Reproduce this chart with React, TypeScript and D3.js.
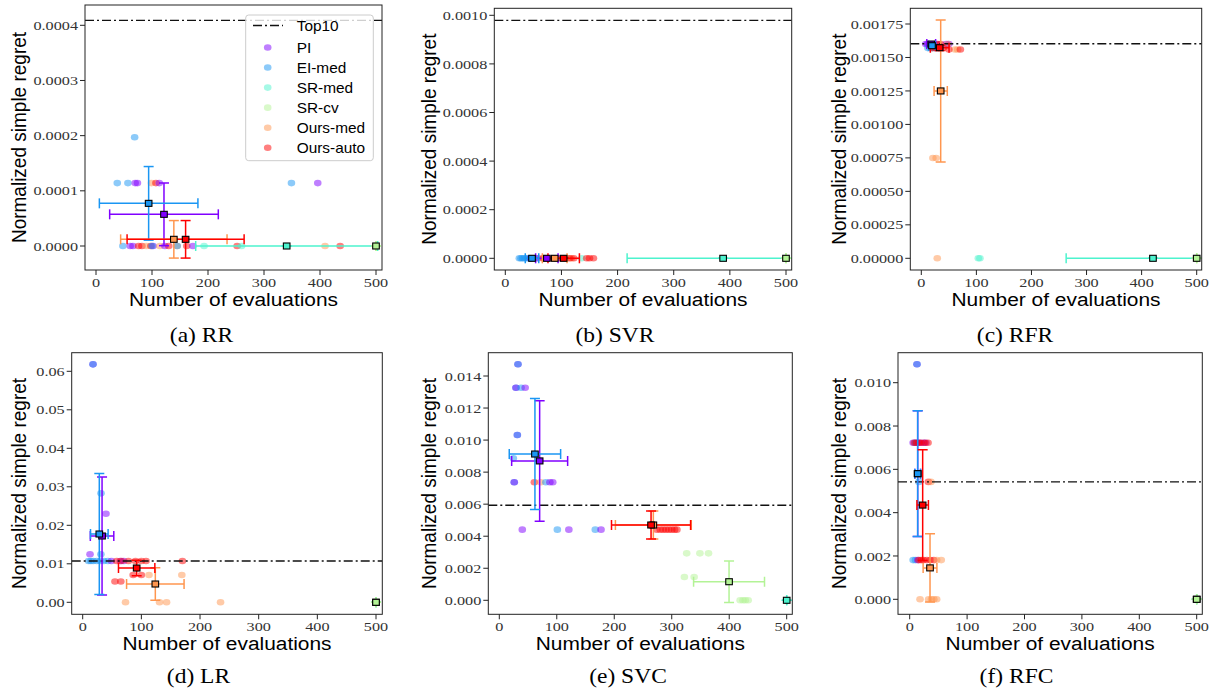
import React from "react";
import * as d3 from "d3";

// Methods in plotting order and their colours (matplotlib "rainbow" sampled at 6 steps)
const methods = ["PI", "EI-med", "SR-med", "SR-cv", "Ours-med", "Ours-auto"];
const methodColors = ["#8000ff", "#1a96f3", "#4df3ce", "#b3f396", "#ff964f", "#ff0000"];

const panelTitles = ["(a) RR", "(b) SVR", "(c) RFR", "(d) LR", "(e) SVC", "(f) RFC"];
const xTickValues = [0, 100, 200, 300, 400, 500];
const yTickValues = [
  [0, 0.0001, 0.0002, 0.0003, 0.0004],
  [0, 0.0002, 0.0004, 0.0006, 0.0008, 0.001],
  [0, 0.00025, 0.0005, 0.00075, 0.001, 0.00125, 0.0015, 0.00175],
  [0, 0.01, 0.02, 0.03, 0.04, 0.05, 0.06],
  [0, 0.002, 0.004, 0.006, 0.008, 0.01, 0.012, 0.014],
  [0, 0.002, 0.004, 0.006, 0.008, 0.01],
];
const yTickFormats = [".4f", ".4f", ".5f", ".2f", ".3f", ".3f"];
const top10Regret = [0.000409, 0.000979, 0.001603, 0.01073, 0.00593, 0.00542];

// Individual runs: [method index, number of evaluations, normalized simple regret]
const rrRuns = [
  [1, 69, 0.000197],
  [1, 38, 0.000114], [1, 57, 0.000114], [0, 70, 0.000114], [0, 74, 0.000114],
  [4, 99, 0.000114], [5, 107, 0.000114], [0, 113, 0.000114], [1, 349, 0.000114], [0, 396, 0.000114],
  [1, 48, 0], [0, 61, 0], [0, 66, 0], [5, 76, 0], [5, 82, 0], [4, 90, 0], [5, 98, 0], [0, 102, 0],
  [1, 100, 0], [4, 114, 0], [0, 123, 0], [5, 130, 0], [4, 145, 0], [1, 145, 0], [5, 162, 0],
  [0, 173, 0], [2, 193, 0], [5, 252, 0], [2, 260, 0], [4, 409, 0], [5, 436, 0], [3, 500, 0],
];
const svrRuns = [
  [1, 25, 0], [1, 28, 0], [1, 31, 0], [1, 34, 0], [1, 38, 0], [1, 42, 0], [1, 47, 0], [1, 55, 0],
  [0, 45, 0], [0, 58, 0], [0, 70, 0], [0, 78, 0], [0, 96, 0],
  [2, 136, 0],
  [4, 65, 0], [4, 82, 0], [4, 90, 0], [4, 112, 0], [4, 118, 0],
  [5, 68, 0], [5, 75, 0], [5, 88, 0], [5, 100, 0], [5, 105, 0], [5, 115, 0], [5, 122, 0],
  [5, 145, 0], [5, 150, 0], [5, 157, 0], [3, 500, 0],
];
const rfrRuns = [
  [0, 8, 0.0016], [0, 11, 0.0016], [0, 14, 0.0016], [0, 18, 0.0016], [0, 22, 0.0016],
  [0, 28, 0.0016], [0, 45, 0.0016], [0, 50, 0.0016],
  [1, 12, 0.00157], [1, 16, 0.00157], [1, 20, 0.00157], [1, 24, 0.00157],
  [2, 103.5, 0], [2, 106.5, 0],
  [4, 48, 0.0016], [4, 61, 0.00156], [4, 66, 0.00156], [4, 21, 0.000749], [4, 27, 0.000749], [4, 29, 0],
  [5, 30, 0.0016], [5, 35, 0.0016], [5, 20, 0.00157], [5, 26, 0.00157], [5, 32, 0.00157],
  [5, 40, 0.00157], [5, 50, 0.00156], [5, 71, 0.00156], [3, 500, 0],
];
const lrRuns = [
  [0, 17.6, 0.0618], [1, 17.6, 0.0618],
  [1, 31.2, 0.0283], [0, 39.7, 0.023], [0, 12.5, 0.01247], [1, 31, 0.0125],
  [1, 10, 0.01073], [1, 14, 0.01073], [1, 18, 0.01073], [1, 24, 0.01073], [1, 30, 0.01073],
  [1, 36, 0.01073], [1, 43, 0.01073], [0, 49, 0.01073], [0, 64, 0.01073], [0, 70, 0.01073],
  [5, 58, 0.01073], [5, 66, 0.01073], [5, 78, 0.01073], [5, 90, 0.01073], [5, 100, 0.01073],
  [5, 108, 0.01073], [5, 170, 0.01073],
  [5, 86, 0.0071], [5, 100, 0.0071], [4, 113, 0.0071], [4, 169, 0.0071],
  [5, 55, 0.0054], [5, 65, 0.0054],
  [4, 73, 0], [4, 131, 0], [4, 143, 0], [4, 235, 0], [2, 500, 0], [3, 500, 0],
];
const svcRuns = [
  [0, 32.5, 0.01473], [1, 32.5, 0.01473],
  [1, 29, 0.01327], [0, 29, 0.01327], [1, 38, 0.01327], [0, 45, 0.01327],
  [0, 31.4, 0.01032], [1, 31.4, 0.01032], [1, 24.4, 0.00886],
  [1, 26, 0.00737], [0, 26, 0.00737], [5, 61, 0.00737], [4, 72, 0.00737], [1, 81, 0.00737],
  [0, 88, 0.00737], [0, 93, 0.00737],
  [0, 40, 0.00441], [1, 101, 0.00441], [0, 121, 0.00441], [1, 167, 0.00441], [0, 177, 0.00441],
  [5, 274, 0.00441], [5, 280, 0.00441], [5, 285, 0.00441], [5, 290, 0.00441], [5, 295, 0.00441],
  [5, 300, 0.00441], [5, 305, 0.00441], [5, 309, 0.00441],
  [3, 326, 0.00293], [3, 349, 0.00293], [3, 364, 0.00293], [3, 322, 0.00145], [3, 339, 0.00145],
  [3, 419, 0], [3, 424, 0], [3, 428, 0], [3, 433, 0], [2, 500, 0],
];
const rfcRuns = [
  [0, 12.7, 0.01085], [1, 12.7, 0.01085],
  [0, 6, 0.00723], [0, 10, 0.00723], [0, 14, 0.00723], [0, 18, 0.00723], [0, 24, 0.00723],
  [0, 28, 0.00723], [1, 10, 0.00723],
  [5, 8, 0.00723], [5, 12, 0.00723], [5, 16, 0.00723], [5, 20, 0.00723], [5, 26, 0.00723], [5, 32, 0.00723],
  [1, 16, 0.00542], [5, 32.5, 0.00542], [4, 37, 0.00542],
  [1, 6, 0.00181], [1, 10, 0.00181], [0, 14, 0.00181], [5, 16, 0.00181], [5, 20, 0.00181],
  [5, 24, 0.00181], [5, 30, 0.00181], [5, 36, 0.00181], [5, 42, 0.00181], [4, 47, 0.00181], [4, 55, 0.00181],
  [4, 18, 0], [4, 33, 0], [4, 38, 0], [4, 42, 0], [4, 47, 0], [2, 500, 0], [3, 500, 0],
];

// Per-method summary: [method index, mean evals, sd evals, mean regret, sd regret]
const rrSummary = [
  [0, 121.4, 97, 0.0000574, 0.0000568], [1, 94, 88, 0.0000773, 0.0000667],
  [2, 340.5, 162.5, 0, 0], [3, 500, 0, 0, 0],
  [4, 139, 95, 0.0000121, 0.000034], [5, 160, 104.5, 0.0000121, 0.000034],
];
const svrSummary = [
  [0, 74, 20, 0, 0], [1, 47.6, 12, 0, 0], [2, 388, 171, 0, 0], [3, 500, 0, 0, 0],
  [4, 88, 22, 0, 0], [5, 104, 28, 0, 0],
];
const rfrSummary = [
  [0, 18, 8, 0.0016, 0], [1, 19.4, 6, 0.001588, 0.00001], [2, 420.6, 157.6, 0, 0], [3, 500, 0, 0, 0],
  [4, 35.2, 12, 0.00125, 0.00053], [5, 33.4, 17, 0.001573, 0.00002],
];
const lrSummary = [
  [0, 33, 20, 0.01722, 0.0153], [1, 28.3, 15, 0.01774, 0.0157], [2, 500, 0, 0, 0], [3, 500, 0, 0, 0],
  [4, 123.8, 49, 0.00475, 0.0042], [5, 92, 31, 0.0089, 0.002],
];
const svcSummary = [
  [0, 70.2, 48.7, 0.0087, 0.00376], [1, 62, 44.7, 0.00913, 0.00347], [2, 500, 0, 0, 0],
  [3, 399.7, 61.7, 0.00116, 0.00129], [4, 268, 66, 0.0047, 0.00087], [5, 264, 68.8, 0.0047, 0.00087],
];
const rfcSummary = [
  [0, 13.9, 5, 0.0058, 0.0029], [1, 13.9, 5, 0.0058, 0.0029], [2, 500, 0, 0, 0], [3, 500, 0, 0, 0],
  [4, 35.4, 12, 0.00145, 0.00158], [5, 22.6, 10, 0.00435, 0.00256],
];

const runsByPanel = [rrRuns, svrRuns, rfrRuns, lrRuns, svcRuns, rfcRuns];
const summaryByPanel = [rrSummary, svrSummary, rfrSummary, lrSummary, svcSummary, rfcSummary];

// Axes placement: box [left, top, right, bottom], pixel of x=0 / x=500, pixel of y=0 / top tick
const layout = [
  { box: [85, 5, 382, 270], x0: 96, x500: 376, y0: 246, yTop: 25.3, ylabX: 26, capX: 201.5, capY: 342 },
  { box: [494.3, 8.3, 791.7, 270], x0: 505.3, x500: 786, y0: 258.3, yTop: 15.3, ylabX: 436, capX: 615, capY: 342 },
  { box: [910.3, 8.3, 1201.7, 270], x0: 921.3, x500: 1196.7, y0: 258.3, yTop: 24, ylabX: 846, capX: 1015, capY: 342 },
  { box: [71.7, 352.7, 382.3, 614.3], x0: 82.7, x500: 376, y0: 602.3, yTop: 371.3, ylabX: 26, capX: 198.5, capY: 683 },
  { box: [488.3, 352.7, 792.3, 614.3], x0: 499.3, x500: 786.7, y0: 600.3, yTop: 376, ylabX: 436, capX: 628, capY: 683 },
  { box: [898, 352.7, 1202.3, 614.3], x0: 909.7, x500: 1196.7, y0: 599.3, yTop: 382.7, ylabX: 846, capX: 1016.5, capY: 683 },
];

const SANS = "'Liberation Sans', Arial, Helvetica, sans-serif";
const SERIF = "'Liberation Serif', 'Times New Roman', serif";
const SX = 1.1; // horizontal text stretch
const DASHDOT = "9,3,2,3";

function Panel({ idx }: { idx: number }) {
  const L = layout[idx];
  const [bx0, by0, bx1, by1] = L.box;
  const ticks = yTickValues[idx];
  const x = d3.scaleLinear().domain([0, 500]).range([L.x0, L.x500]);
  const y = d3.scaleLinear().domain([0, ticks[ticks.length - 1]]).range([L.y0, L.yTop]);
  const fmt = d3.format(yTickFormats[idx]);
  const clipId = `clip-${idx}`;
  const runs = runsByPanel[idx];
  const summary = summaryByPanel[idx];
  const cap = 5;
  const half = 3;

  return (
    <g>
      <defs>
        <clipPath id={clipId}>
          <rect x={bx0} y={by0} width={bx1 - bx0} height={by1 - by0} />
        </clipPath>
      </defs>
      <g clipPath={`url(#${clipId})`}>
        {runs.map((r, i) => (
          <ellipse key={i} cx={x(r[1])} cy={y(r[2])} rx={3.8} ry={3.3}
            fill={methodColors[r[0]]} fillOpacity={0.5} />
        ))}
        <line x1={bx0} x2={bx1} y1={y(top10Regret[idx])} y2={y(top10Regret[idx])}
          stroke="#111" strokeWidth={1.4} strokeDasharray={DASHDOT} />
        {summary.map((s, i) => {
          const c = methodColors[s[0]];
          const mx = x(s[1]), my = y(s[3]);
          const xl = x(s[1] - s[2]), xr = x(s[1] + s[2]);
          const yt = y(s[3] + s[4]), yb = y(s[3] - s[4]);
          return (
            <g key={i} stroke={c} strokeWidth={1.5}>
              <line x1={xl} x2={xr} y1={my} y2={my} />
              <line x1={mx} x2={mx} y1={yt} y2={yb} />
              <line x1={xl} x2={xl} y1={my - cap} y2={my + cap} />
              <line x1={xr} x2={xr} y1={my - cap} y2={my + cap} />
              <line x1={mx - cap} x2={mx + cap} y1={yt} y2={yt} />
              <line x1={mx - cap} x2={mx + cap} y1={yb} y2={yb} />
            </g>
          );
        })}
        {summary.map((s, i) => (
          <rect key={i} x={x(s[1]) - half * SX} y={y(s[3]) - half} width={2 * half * SX} height={2 * half}
            fill={methodColors[s[0]]} stroke="#000" strokeWidth={1.1} />
        ))}
      </g>
      <rect x={bx0} y={by0} width={bx1 - bx0} height={by1 - by0} fill="none" stroke="#222" strokeWidth={1} />
      {/* y ticks */}
      {ticks.map((t, i) => (
        <g key={i}>
          <line x1={bx0 - 5} x2={bx0} y1={y(t)} y2={y(t)} stroke="#222" strokeWidth={1} />
          <text transform={`translate(${bx0 - 7},${y(t) + 4.6}) scale(1.2,1)`} textAnchor="end"
            fontFamily={SERIF} fontSize={13.5} fill="#333">{fmt(t)}</text>
        </g>
      ))}
      {/* x ticks */}
      {xTickValues.map((t, i) => (
        <g key={i}>
          <line x1={x(t)} x2={x(t)} y1={by1} y2={by1 + 5} stroke="#222" strokeWidth={1} />
          <text transform={`translate(${x(t)},${by1 + 16.7}) scale(1.2,1)`} textAnchor="middle"
            fontFamily={SERIF} fontSize={13.5} fill="#333">{t}</text>
        </g>
      ))}
      <text transform={`translate(${(bx0 + bx1) / 2},${by1 + 36}) scale(${SX},1)`} textAnchor="middle"
        fontFamily={SANS} fontSize={19} fill="#000">Number of evaluations</text>
      <text transform={`translate(${L.ylabX},${(by0 + by1) / 2}) scale(${SX},1) rotate(-90)`} textAnchor="middle"
        fontFamily={SANS} fontSize={19} fill="#000">Normalized simple regret</text>
      <text transform={`translate(${L.capX},${L.capY}) scale(1.12,1)`} textAnchor="middle"
        fontFamily={SERIF} fontSize={21} fill="#000">{panelTitles[idx]}</text>
    </g>
  );
}

function Legend() {
  const left = 245.7, top = 15, right = 373.3, bottom = 160.7;
  const rowY = (i: number) => 47.5 + i * 20.05;
  return (
    <g>
      <rect x={left} y={top} width={right - left} height={bottom - top} rx={3}
        fill="#fff" fillOpacity={0.8} stroke="#cccccc" strokeWidth={1} />
      <line x1={253} x2={283} y1={25.5} y2={25.5} stroke="#111" strokeWidth={1.4} strokeDasharray={DASHDOT} />
      <text transform={`translate(296.7,30.5) scale(${SX},1)`} fontFamily={SANS} fontSize={14}>Top10</text>
      {methods.map((m, i) => (
        <g key={m}>
          <ellipse cx={267.7} cy={rowY(i)} rx={3.8} ry={3.3} fill={methodColors[i]} fillOpacity={0.5} />
          <text transform={`translate(296.7,${rowY(i) + 5}) scale(${SX},1)`} fontFamily={SANS} fontSize={14}>{m}</text>
        </g>
      ))}
    </g>
  );
}

export default function App() {
  return (
    <svg width={1211} height={689} viewBox="0 0 1211 689"
      style={{ position: "absolute", left: 0, top: 0, background: "#fff" }}>
      <rect width={1211} height={689} fill="#fff" />
      {layout.map((_, i) => <Panel key={i} idx={i} />)}
      <Legend />
    </svg>
  );
}
